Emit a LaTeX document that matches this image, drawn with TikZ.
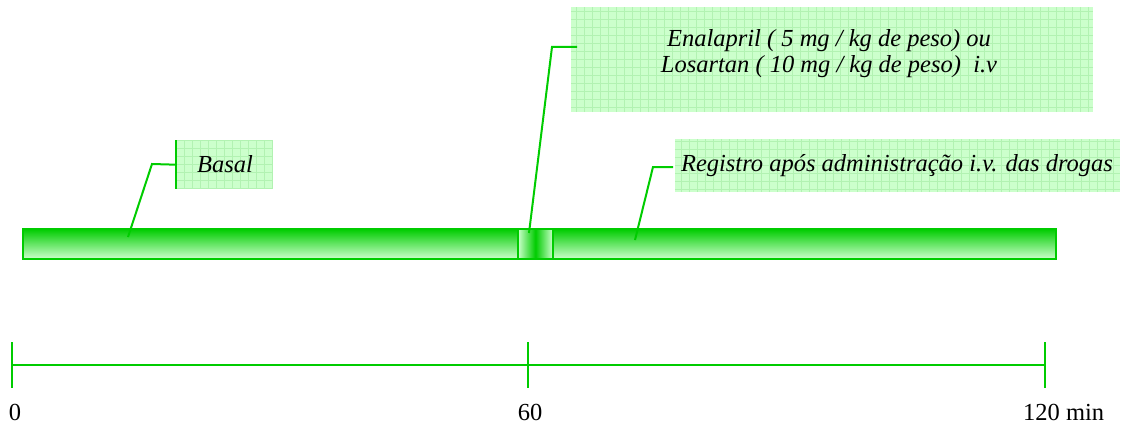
\documentclass[tikz,border=0pt]{standalone}
\usepackage{fontspec}
\setmainfont{Liberation Serif}
\definecolor{lg}{RGB}{0,204,0}
\definecolor{pale}{RGB}{204,255,204}
\definecolor{gridc}{RGB}{178,242,178}
\begin{document}
\begin{tikzpicture}[x=1pt,y=-1pt,
  bar/.style={draw=lg, line width=1.8pt, top color=lg, bottom color=pale, inner sep=0pt, anchor=north west, minimum height=30pt},
  midbar/.style={draw=lg, line width=1.8pt, left color=pale, right color=pale, middle color=lg, inner sep=0pt, anchor=north west, minimum height=30pt},
  notebox/.style={fill=pale, inner sep=0pt, anchor=north west,
    path picture={\draw[gridc, line width=0.7pt, step=8pt] (path picture bounding box.south west) grid (path picture bounding box.north east);}},
  txt/.style={font=\itshape\fontsize{24.5}{26.5}\selectfont, align=center, inner sep=0pt},
  lbl/.style={font=\fontsize{24.5}{27}\selectfont, inner sep=0pt},
  conn/.style={draw=lg, line width=2pt}]
\useasboundingbox (0,0) rectangle (1140,428);
% bars
\node[bar, minimum width=495pt] (basalbar) at (22,228) {};
\node[midbar, minimum width=35pt] (drugbar) at (517,228) {};
\node[bar, minimum width=503pt] (regbar) at (552,228) {};
% note boxes
\node[notebox, minimum width=97pt, minimum height=49pt] (basalbox) at (176,140) {};
\node[txt] (basaltxt) at (225,164) {Basal};
\draw[conn] (basalbox.north west) -- (basalbox.south west);
\node[notebox, minimum width=522pt, minimum height=105pt] (enalbox) at (571,7) {};
\node[txt] (enaltxt) at (829,53.5) {Enalapril ( 5 mg / kg de peso) ou\\Losartan ( 10 mg / kg de peso) \ i.v};
\node[notebox, minimum width=445pt, minimum height=53pt] (regbox) at (675,139) {};
\node[txt] (regtxt) at (897,165.5) {Registro após administração i.v. das drogas};
% callouts
\coordinate (bel) at (152,164);
\coordinate (bend) at (128,237);
\draw[conn] (basalbox.west) -- (bel) -- (bend);
\coordinate (eel) at (552,47);
\coordinate (eend) at (529,233);
\coordinate (estart) at (577,47);
\draw[conn] (estart) -- (eel) -- (eend);
\coordinate (rel) at (653,167);
\coordinate (rend) at (635,240);
\coordinate (rstart) at (673,167);
\draw[conn] (rstart) -- (rel) -- (rend);
% axis
\coordinate (a0) at (12,365);
\coordinate (a60) at (528,365);
\coordinate (a120) at (1045,365);
\draw[lg, line width=2.2pt] (a0) -- (a120);
\foreach \c in {a0,a60,a120}{
  \draw[lg, line width=1.6pt] ([yshift=23pt]\c) -- ([yshift=-23pt]\c);
}
\node[lbl] (l0) at (15,412) {0};
\node[lbl] (l60) at (530,412) {60};
\node[lbl, anchor=west] (l120) at (1023,412) {120 min};
\end{tikzpicture}
\end{document}
